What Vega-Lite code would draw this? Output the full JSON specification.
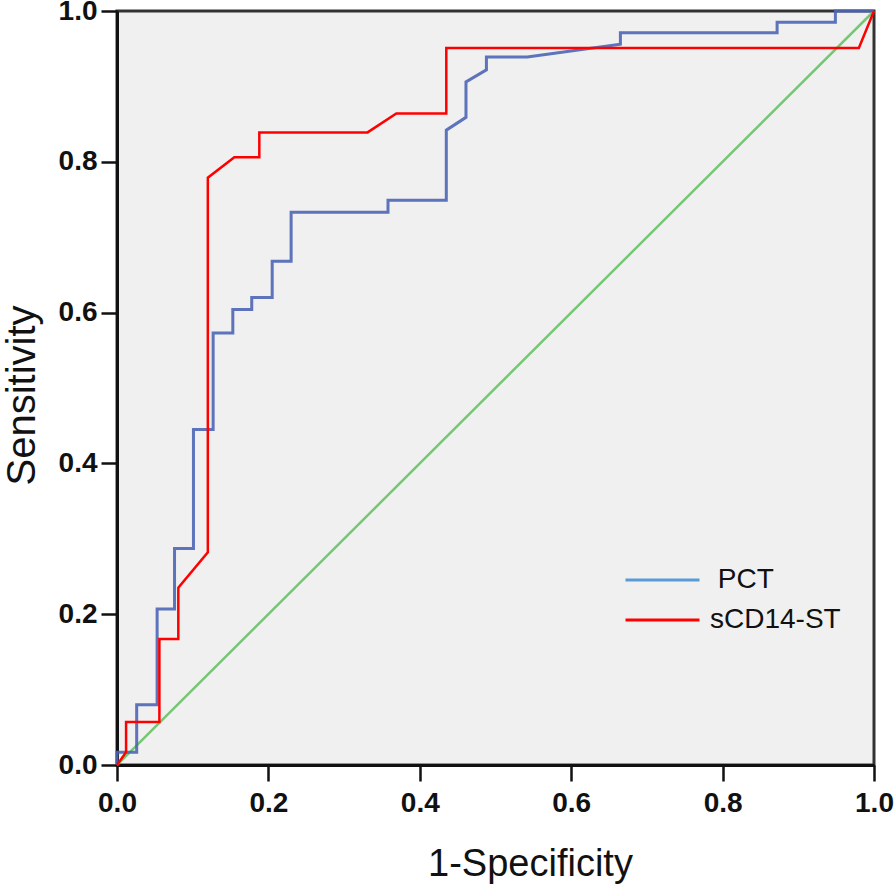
{
  "$schema": "https://vega.github.io/schema/vega-lite/v6.json",
  "width": 757,
  "height": 754,
  "autosize": "none",
  "padding": {"left": 117, "top": 11, "right": 22, "bottom": 120},
  "background": "white",
  "config": {
    "font": "Liberation Sans",
    "view": {"fill": "#f0f0f0", "stroke": "#333333", "strokeWidth": 3}
  },
  "datasets": {
    "ref": [
      {"series": "ref", "i": 0, "x": 0, "y": 0},
      {"series": "ref", "i": 1, "x": 1, "y": 1}
    ],
    "roc": [
      {"series": "PCT", "i": 0, "x": 0, "y": 0},
      {"series": "PCT", "i": 1, "x": 0, "y": 0.017},
      {"series": "PCT", "i": 2, "x": 0.026, "y": 0.017},
      {"series": "PCT", "i": 3, "x": 0.026, "y": 0.08},
      {"series": "PCT", "i": 4, "x": 0.053, "y": 0.08},
      {"series": "PCT", "i": 5, "x": 0.053, "y": 0.207},
      {"series": "PCT", "i": 6, "x": 0.076, "y": 0.207},
      {"series": "PCT", "i": 7, "x": 0.076, "y": 0.287},
      {"series": "PCT", "i": 8, "x": 0.101, "y": 0.287},
      {"series": "PCT", "i": 9, "x": 0.101, "y": 0.445},
      {"series": "PCT", "i": 10, "x": 0.127, "y": 0.445},
      {"series": "PCT", "i": 11, "x": 0.127, "y": 0.573},
      {"series": "PCT", "i": 12, "x": 0.153, "y": 0.573},
      {"series": "PCT", "i": 13, "x": 0.153, "y": 0.604},
      {"series": "PCT", "i": 14, "x": 0.178, "y": 0.604},
      {"series": "PCT", "i": 15, "x": 0.178, "y": 0.62},
      {"series": "PCT", "i": 16, "x": 0.205, "y": 0.62},
      {"series": "PCT", "i": 17, "x": 0.205, "y": 0.668},
      {"series": "PCT", "i": 18, "x": 0.23, "y": 0.668},
      {"series": "PCT", "i": 19, "x": 0.23, "y": 0.733},
      {"series": "PCT", "i": 20, "x": 0.358, "y": 0.733},
      {"series": "PCT", "i": 21, "x": 0.358, "y": 0.749},
      {"series": "PCT", "i": 22, "x": 0.435, "y": 0.749},
      {"series": "PCT", "i": 23, "x": 0.435, "y": 0.842},
      {"series": "PCT", "i": 24, "x": 0.461, "y": 0.859},
      {"series": "PCT", "i": 25, "x": 0.461, "y": 0.906},
      {"series": "PCT", "i": 26, "x": 0.488, "y": 0.922},
      {"series": "PCT", "i": 27, "x": 0.488, "y": 0.939},
      {"series": "PCT", "i": 28, "x": 0.542, "y": 0.939},
      {"series": "PCT", "i": 29, "x": 0.665, "y": 0.956},
      {"series": "PCT", "i": 30, "x": 0.665, "y": 0.971},
      {"series": "PCT", "i": 31, "x": 0.872, "y": 0.971},
      {"series": "PCT", "i": 32, "x": 0.872, "y": 0.985},
      {"series": "PCT", "i": 33, "x": 0.949, "y": 0.985},
      {"series": "PCT", "i": 34, "x": 0.949, "y": 1},
      {"series": "PCT", "i": 35, "x": 1, "y": 1},
      {"series": "sCD14-ST", "i": 0, "x": 0, "y": 0},
      {"series": "sCD14-ST", "i": 1, "x": 0.012, "y": 0.017},
      {"series": "sCD14-ST", "i": 2, "x": 0.012, "y": 0.057},
      {"series": "sCD14-ST", "i": 3, "x": 0.056, "y": 0.057},
      {"series": "sCD14-ST", "i": 4, "x": 0.056, "y": 0.167},
      {"series": "sCD14-ST", "i": 5, "x": 0.081, "y": 0.167},
      {"series": "sCD14-ST", "i": 6, "x": 0.081, "y": 0.235},
      {"series": "sCD14-ST", "i": 7, "x": 0.12, "y": 0.282},
      {"series": "sCD14-ST", "i": 8, "x": 0.12, "y": 0.779},
      {"series": "sCD14-ST", "i": 9, "x": 0.155, "y": 0.806},
      {"series": "sCD14-ST", "i": 10, "x": 0.188, "y": 0.806},
      {"series": "sCD14-ST", "i": 11, "x": 0.188, "y": 0.839},
      {"series": "sCD14-ST", "i": 12, "x": 0.331, "y": 0.839},
      {"series": "sCD14-ST", "i": 13, "x": 0.369, "y": 0.864},
      {"series": "sCD14-ST", "i": 14, "x": 0.435, "y": 0.864},
      {"series": "sCD14-ST", "i": 15, "x": 0.435, "y": 0.951},
      {"series": "sCD14-ST", "i": 16, "x": 0.98, "y": 0.951},
      {"series": "sCD14-ST", "i": 17, "x": 1, "y": 1}
    ]
  },
  "encoding": {
    "x": {
      "field": "x", "type": "quantitative",
      "scale": {"domain": [0, 1], "nice": false},
      "axis": {
        "values": [0, 0.2, 0.4, 0.6, 0.8, 1],
        "format": ".1f", "grid": false, "labelFlush": false,
        "domainColor": "#111111", "domainWidth": 3,
        "tickColor": "#111111", "tickWidth": 2.5, "tickSize": 16,
        "labelFontSize": 28, "labelFontWeight": "bold", "labelColor": "#111111", "labelPadding": 8,
        "title": "1-Specificity", "titleFontSize": 38, "titleFontWeight": "normal", "titleColor": "#111111",
        "titleX": 413, "titleY": 110, "titleBaseline": "alphabetic", "titleAlign": "center"
      }
    },
    "y": {
      "field": "y", "type": "quantitative",
      "scale": {"domain": [0, 1], "nice": false},
      "axis": {
        "values": [0, 0.2, 0.4, 0.6, 0.8, 1],
        "format": ".1f", "grid": false, "labelFlush": false,
        "domainColor": "#111111", "domainWidth": 3,
        "tickColor": "#111111", "tickWidth": 2.5, "tickSize": 16,
        "labelFontSize": 28, "labelFontWeight": "bold", "labelColor": "#111111", "labelPadding": 4,
        "title": "Sensitivity", "titleFontSize": 40, "titleFontWeight": "normal", "titleColor": "#111111",
        "titleX": -83, "titleY": 384, "titleBaseline": "alphabetic", "titleAlign": "center", "titleAngle": -90
      }
    },
    "order": {"field": "i", "type": "quantitative"}
  },
  "layer": [
    {
      "data": {"name": "ref"},
      "mark": {"type": "line", "color": "#74c874", "strokeWidth": 2.5},
      "encoding": {}
    },
    {
      "data": {"name": "roc"},
      "transform": [{"filter": "datum.series == 'PCT'"}],
      "mark": {"type": "line", "color": "#4d65b5", "strokeWidth": 3, "opacity": 0.9},
      "encoding": {}
    },
    {
      "data": {"name": "roc"},
      "transform": [{"filter": "datum.series == 'sCD14-ST'"}],
      "mark": {"type": "line", "strokeWidth": 2.5},
      "encoding": {
        "color": {
          "field": "series", "type": "nominal",
          "scale": {"domain": ["PCT", "sCD14-ST"], "range": ["#5b9bd5", "#ff0000"]},
          "legend": {
            "orient": "none", "legendX": 507, "legendY": 549,
            "title": null, "symbolType": "stroke", "symbolSize": 5476, "symbolStrokeWidth": 3,
            "labelFontSize": 28, "labelColor": "#111111", "labelOffset": 9, "rowPadding": 0,
            "clipHeight": 40,
            "labelExpr": "datum.label == 'PCT' ? '\u200b\u00a0PCT' : datum.label"
          }
        }
      }
    }
  ]
}
